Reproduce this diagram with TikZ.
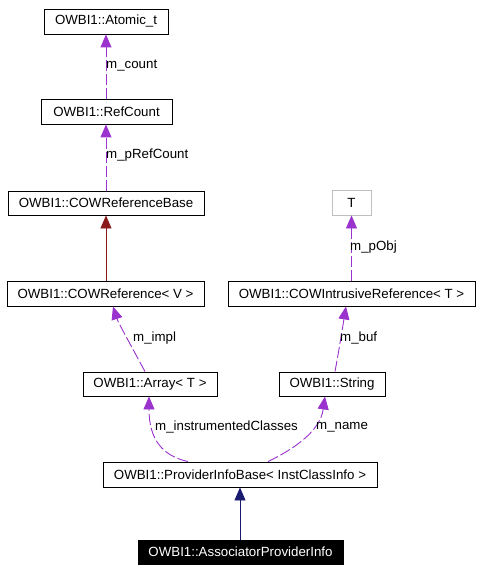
\documentclass[tikz,border=0pt]{standalone}
\usepackage{fontspec}
\setmainfont{Liberation Sans}
\usetikzlibrary{arrows.meta,calc}
\definecolor{usecol}{HTML}{9A32CD}
\definecolor{privcol}{HTML}{8B1A1A}
\definecolor{pubcol}{HTML}{191970}
\definecolor{tcol}{HTML}{BFBFBF}
\tikzset{
  cls/.style={draw=black, line width=0.9bp, rectangle, inner sep=0pt, minimum height=25bp, font=\fontsize{13.3bp}{16bp}\selectfont},
  lbl/.style={anchor=west, inner sep=0pt, font=\fontsize{13.3bp}{16bp}\selectfont},
  usage/.style={draw=usecol, line width=0.9bp, dash pattern=on 11bp off 3bp, -{Triangle[length=13bp,width=11bp,fill=usecol]}},
  inhpriv/.style={draw=privcol, line width=0.9bp, -{Triangle[length=13bp,width=11bp,fill=privcol]}},
  inhpub/.style={draw=pubcol, line width=0.9bp, -{Triangle[length=13bp,width=11bp,fill=pubcol]}}
}
\begin{document}
\begin{tikzpicture}[x=1bp,y=-1bp]
\useasboundingbox (0,0) rectangle (480,571);
\node[cls, minimum width=124bp] (at1) at (106,21.5) {OWBI1::Atomic\_t};
\node[cls, minimum width=131bp] (rc) at (106.5,111.5) {OWBI1::RefCount};
\node[cls, minimum width=196bp, minimum height=24bp] (crb) at (106,203) {OWBI1::COWReferenceBase};
\node[cls, minimum width=197bp] (cr) at (105.5,293.5) {OWBI1::COWReference< V >};
\node[cls, draw=tcol, minimum width=39bp] (t) at (351.5,202.5) {T};
\node[cls, minimum width=247bp] (cir) at (351.5,293.5) {OWBI1::COWIntrusiveReference< T >};
\node[cls, minimum width=134bp, minimum height=24bp] (arr) at (150,384) {OWBI1::Array< T >};
\node[cls, minimum width=106bp, minimum height=24bp] (str) at (332,384) {OWBI1::String};
\node[cls, minimum width=274bp] (pib) at (240,474.5) {OWBI1::ProviderInfoBase< InstClassInfo >};
\node[cls, fill=black, text=white, minimum width=205bp, minimum height=24bp] (apn) at (240.5,552) {OWBI1::AssociatorProviderInfo};

\draw[usage] (rc.north -| at1.south) -- (at1.south);
\node[lbl] (l1) at (106,66) {m\_count};
\draw[usage] (crb.north) -- (crb.north |- rc.south);
\node[lbl] (l2) at (106,155) {m\_pRefCount};
\draw[inhpriv] (cr.north -| crb.south) -- (crb.south);
\draw[usage] (cir.north -| t.south) -- (t.south);
\node[lbl] (l3) at (350,247) {m\_pObj};
\draw[usage] ($(arr.north)+(-5,0)$) .. controls (128,340) and (118,322) .. ($(cr.south)+(7.5,0)$);
\node[lbl] (l4) at (133,338) {m\_impl};
\draw[usage] ($(str.north)+(3,0)$) .. controls (339,350) and (343,325) .. ($(cir.south)+(-5.5,0)$);
\node[lbl] (l5) at (340,338) {m\_buf};
\draw[usage] ($(pib.north)+(-52,0)$) .. controls (163,456) and (149,440) .. ($(arr.south)+(-1,0)$);
\node[lbl] (l6) at (155,427) {m\_instrumentedClasses};
\draw[usage] ($(pib.north)+(28,0)$) .. controls (292,450) and (320,432) .. ($(str.south)+(-7,0)$);
\node[lbl] (l7) at (316,427) {m\_name};
\draw[inhpub] (apn.north -| pib.south) -- (pib.south);
\end{tikzpicture}
\end{document}
